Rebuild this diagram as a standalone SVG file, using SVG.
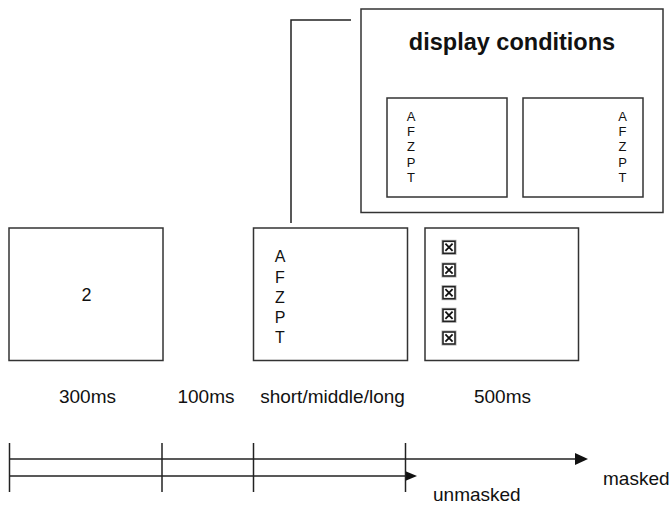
<svg xmlns="http://www.w3.org/2000/svg" width="671" height="505" viewBox="0 0 671 505">
<style>
.box{fill:#fff;stroke:#333;stroke-width:1.5}
.t{font-family:"Liberation Sans",Arial,sans-serif;fill:#111}
.lab{font-size:19px;text-anchor:middle}
.sm{font-size:13px;text-anchor:middle}
.md{font-size:16px;text-anchor:middle}
.ln{stroke:#222;stroke-width:1.5;fill:none}
.ah{fill:#111}
</style>
<defs>
<g id="cb">
<rect x="-7" y="-7" width="14" height="14" fill="#fff" stroke="#aaa" stroke-width="1"/>
<rect x="-6" y="-6" width="12" height="12" fill="#fff" stroke="#222" stroke-width="1.6"/>
<path d="M-3.6-3.6L3.6 3.6M3.6-3.6L-3.6 3.6" stroke="#111" stroke-width="1.8"/>
</g>
</defs>
<g id="connectors">
<polyline class="ln" points="351,20 291,20 291,223" stroke="#555"/>
<line class="ln" x1="9" y1="459" x2="576" y2="459"/>
<polygon class="ah" points="575,453 588,459 575,465"/>
<line class="ln" x1="9" y1="476" x2="406" y2="476"/>
<polygon class="ah" points="405,471 417,476 405,481"/>
<line class="ln" x1="9.5" y1="443" x2="9.5" y2="492"/>
<line class="ln" x1="162" y1="443" x2="162" y2="492"/>
<line class="ln" x1="253.5" y1="443" x2="253.5" y2="492"/>
<line class="ln" x1="405.5" y1="443" x2="405.5" y2="492"/>
</g>
<g id="display-conditions">
<rect class="box" x="361" y="9" width="302" height="203.5"/>
<text class="t" x="512" y="50" font-size="23.5" font-weight="bold" text-anchor="middle">display conditions</text>
</g>
<g id="cond-left">
<rect class="box" x="387" y="98" width="120" height="99"/>
<text class="t sm" x="411" y="121">A</text>
<text class="t sm" x="411" y="136.2">F</text>
<text class="t sm" x="411" y="151.4">Z</text>
<text class="t sm" x="411" y="166.6">P</text>
<text class="t sm" x="411" y="181.8">T</text>
</g>
<g id="cond-right">
<rect class="box" x="523" y="98" width="120" height="99"/>
<text class="t sm" x="622.5" y="121">A</text>
<text class="t sm" x="622.5" y="136.2">F</text>
<text class="t sm" x="622.5" y="151.4">Z</text>
<text class="t sm" x="622.5" y="166.6">P</text>
<text class="t sm" x="622.5" y="181.8">T</text>
</g>
<g id="fixation">
<rect class="box" x="9" y="228" width="154" height="132.5"/>
<text class="t" x="86.5" y="301" font-size="18" text-anchor="middle">2</text>
</g>
<g id="stimulus">
<rect class="box" x="253.5" y="228" width="154" height="132.5"/>
<text class="t md" x="280" y="262.3">A</text>
<text class="t md" x="280" y="282.6">F</text>
<text class="t md" x="280" y="302.9">Z</text>
<text class="t md" x="280" y="323.1">P</text>
<text class="t md" x="280" y="343.3">T</text>
</g>
<g id="mask">
<rect class="box" x="425" y="228" width="153.5" height="132.5"/>
<use href="#cb" x="449" y="247.3"/>
<use href="#cb" x="449" y="270"/>
<use href="#cb" x="449" y="292.7"/>
<use href="#cb" x="449" y="315.3"/>
<use href="#cb" x="449" y="338"/>
</g>
<g id="labels">
<text class="t lab" x="87.5" y="403">300ms</text>
<text class="t lab" x="206" y="403">100ms</text>
<text class="t lab" x="332.5" y="403">short/middle/long</text>
<text class="t lab" x="502.5" y="403">500ms</text>
<text class="t" x="603" y="485" font-size="19">masked</text>
<text class="t" x="433" y="501" font-size="19">unmasked</text>
</g>
</svg>
